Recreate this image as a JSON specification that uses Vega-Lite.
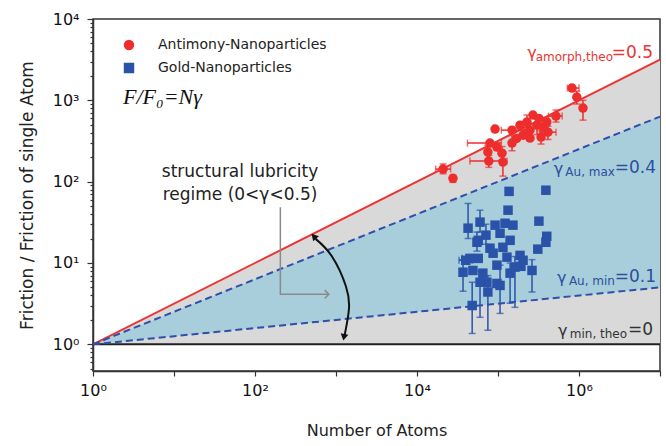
{
  "$schema": "https://vega.github.io/schema/vega-lite/v6.json",
  "width": 567,
  "height": 352,
  "autosize": "none",
  "padding": {"left": 93, "top": 19, "right": 6, "bottom": 75},
  "background": "white",
  "config": {
    "font": "DejaVu Sans",
    "view": {"stroke": "#333", "strokeWidth": 1.5},
    "axis": {"grid": false, "domainColor": "#333", "domainWidth": 1.5, "tickColor": "#333", "tickWidth": 1.2, "labelFont": "DejaVu Sans", "labelFontSize": 16, "labelColor": "#111", "titleFont": "DejaVu Sans", "titleFontWeight": "normal", "titleColor": "#222", "labelOverlap": false, "labelFlush": false},
    "legend": {"orient": "none", "legendX": 29, "legendY": 19, "labelFontSize": 14, "labelFont": "DejaVu Sans", "labelColor": "#222", "labelLimit": 400, "symbolSize": 80, "symbolOpacity": 1, "labelOffset": 22, "rowPadding": 7}
  },
  "datasets": {
    "pts": [
      {"group": "Antimony-Nanoparticles", "N": 820000, "F": 1416, "Nlo": 720000, "Nhi": 1000000},
      {"group": "Antimony-Nanoparticles", "N": 940000, "F": 1096, "Flo": 900, "Fhi": 1300},
      {"group": "Antimony-Nanoparticles", "N": 1120000, "F": 804, "Flo": 571, "Fhi": 1000},
      {"group": "Antimony-Nanoparticles", "N": 520000, "F": 640, "Flo": 540, "Fhi": 760, "Nlo": 420000, "Nhi": 620000},
      {"group": "Antimony-Nanoparticles", "N": 270000, "F": 658},
      {"group": "Antimony-Nanoparticles", "N": 228000, "F": 540, "Flo": 440, "Fhi": 660},
      {"group": "Antimony-Nanoparticles", "N": 303000, "F": 495, "Flo": 380, "Fhi": 600},
      {"group": "Antimony-Nanoparticles", "N": 248000, "F": 430, "Flo": 330, "Fhi": 520},
      {"group": "Antimony-Nanoparticles", "N": 360000, "F": 469},
      {"group": "Antimony-Nanoparticles", "N": 414000, "F": 406, "Flo": 330, "Fhi": 480, "Nlo": 330000, "Nhi": 520000},
      {"group": "Antimony-Nanoparticles", "N": 204000, "F": 373},
      {"group": "Antimony-Nanoparticles", "N": 340000, "F": 353, "Flo": 290, "Fhi": 420},
      {"group": "Antimony-Nanoparticles", "N": 248000, "F": 343},
      {"group": "Antimony-Nanoparticles", "N": 149000, "F": 430, "Nlo": 110000, "Nhi": 200000},
      {"group": "Antimony-Nanoparticles", "N": 92000, "F": 443},
      {"group": "Antimony-Nanoparticles", "N": 149000, "F": 298, "Flo": 240, "Fhi": 370},
      {"group": "Antimony-Nanoparticles", "N": 79600, "F": 298, "Nlo": 42000, "Nhi": 110000},
      {"group": "Antimony-Nanoparticles", "N": 97000, "F": 266},
      {"group": "Antimony-Nanoparticles", "N": 75000, "F": 231, "Flo": 190, "Fhi": 280},
      {"group": "Antimony-Nanoparticles", "N": 115000, "F": 174, "Flo": 117, "Fhi": 230},
      {"group": "Antimony-Nanoparticles", "N": 77000, "F": 179, "Flo": 150, "Fhi": 210, "Nlo": 45000, "Nhi": 129000},
      {"group": "Antimony-Nanoparticles", "N": 21000, "F": 143, "Flo": 125, "Fhi": 165, "Nlo": 17000, "Nhi": 26000},
      {"group": "Antimony-Nanoparticles", "N": 27800, "F": 110, "Flo": 98, "Fhi": 120},
      {"group": "Antimony-Nanoparticles", "N": 187000, "F": 495},
      {"group": "Antimony-Nanoparticles", "N": 400000, "F": 540},
      {"group": "Antimony-Nanoparticles", "N": 112000, "F": 224, "Flo": 185, "Fhi": 270},
      {"group": "Antimony-Nanoparticles", "N": 320000, "F": 600},
      {"group": "Antimony-Nanoparticles", "N": 220000, "F": 390},
      {"group": "Antimony-Nanoparticles", "N": 170000, "F": 340},
      {"group": "Gold-Nanoparticles", "N": 390000, "F": 78.5},
      {"group": "Gold-Nanoparticles", "N": 137000, "F": 76},
      {"group": "Gold-Nanoparticles", "N": 133000, "F": 44.6},
      {"group": "Gold-Nanoparticles", "N": 320000, "F": 32.7},
      {"group": "Gold-Nanoparticles", "N": 400000, "F": 21.3},
      {"group": "Gold-Nanoparticles", "N": 390000, "F": 18},
      {"group": "Gold-Nanoparticles", "N": 310000, "F": 14.8},
      {"group": "Gold-Nanoparticles", "N": 60000, "F": 31.8, "Flo": 24, "Fhi": 44.6},
      {"group": "Gold-Nanoparticles", "N": 92000, "F": 29.2},
      {"group": "Gold-Nanoparticles", "N": 122000, "F": 30.8},
      {"group": "Gold-Nanoparticles", "N": 153000, "F": 29.2},
      {"group": "Gold-Nanoparticles", "N": 106000, "F": 23.2},
      {"group": "Gold-Nanoparticles", "N": 42700, "F": 26.8, "Flo": 20, "Fhi": 54},
      {"group": "Gold-Nanoparticles", "N": 55000, "F": 18, "Flo": 14, "Fhi": 24},
      {"group": "Gold-Nanoparticles", "N": 115000, "F": 15.6},
      {"group": "Gold-Nanoparticles", "N": 187000, "F": 12.4},
      {"group": "Gold-Nanoparticles", "N": 79600, "F": 15.2},
      {"group": "Gold-Nanoparticles", "N": 45000, "F": 11.4, "Nlo": 36000, "Nhi": 56000},
      {"group": "Gold-Nanoparticles", "N": 37000, "F": 7.7, "Flo": 4.5, "Fhi": 11},
      {"group": "Gold-Nanoparticles", "N": 49000, "F": 8.1},
      {"group": "Gold-Nanoparticles", "N": 65000, "F": 7.5},
      {"group": "Gold-Nanoparticles", "N": 73000, "F": 5.8},
      {"group": "Gold-Nanoparticles", "N": 129000, "F": 11.8},
      {"group": "Gold-Nanoparticles", "N": 162000, "F": 8.9, "Flo": 2.85, "Fhi": 12},
      {"group": "Gold-Nanoparticles", "N": 204000, "F": 10.8},
      {"group": "Gold-Nanoparticles", "N": 263000, "F": 8.1, "Flo": 4.4, "Fhi": 11},
      {"group": "Gold-Nanoparticles", "N": 106000, "F": 5.3, "Flo": 2.4, "Fhi": 9.4},
      {"group": "Gold-Nanoparticles", "N": 75000, "F": 4.4, "Flo": 1.49, "Fhi": 7},
      {"group": "Gold-Nanoparticles", "N": 48000, "F": 3.0, "Flo": 1.36, "Fhi": 5.8},
      {"group": "Gold-Nanoparticles", "N": 60000, "F": 5.8, "Flo": 2.15, "Fhi": 8},
      {"group": "Gold-Nanoparticles", "N": 87000, "F": 13.2},
      {"group": "Gold-Nanoparticles", "N": 141000, "F": 7.5, "Flo": 3.2, "Fhi": 10},
      {"group": "Gold-Nanoparticles", "N": 57000, "F": 19},
      {"group": "Gold-Nanoparticles", "N": 192000, "F": 9.1},
      {"group": "Gold-Nanoparticles", "N": 97000, "F": 5.6},
      {"group": "Gold-Nanoparticles", "N": 40000, "F": 10.8, "Nlo": 33000, "Nhi": 48000},
      {"group": "Gold-Nanoparticles", "N": 71000, "F": 22, "Flo": 17, "Fhi": 30},
      {"group": "Gold-Nanoparticles", "N": 141000, "F": 19},
      {"group": "Gold-Nanoparticles", "N": 57000, "F": 11.4},
      {"group": "Gold-Nanoparticles", "N": 97000, "F": 9.4}
    ],
    "glabels": [
      {"line": "amorph", "part": "g", "t": "γ", "N": 300000, "F": 3819},
      {"line": "amorph", "part": "sub", "t": "amorph,theo", "N": 2630000, "F": 3404},
      {"line": "amorph", "part": "eq", "t": "=0.5", "N": 8200000, "F": 3819},
      {"line": "aumax", "part": "g", "t": "γ", "N": 640000, "F": 142.6},
      {"line": "aumax", "part": "sub", "t": "Au, max", "N": 2780000, "F": 130.9},
      {"line": "aumax", "part": "eq", "t": "=0.4", "N": 8930000, "F": 146.6},
      {"line": "aumin", "part": "g", "t": "γ", "N": 700000, "F": 6.49},
      {"line": "aumin", "part": "sub", "t": "Au, min", "N": 2780000, "F": 5.96},
      {"line": "aumin", "part": "eq", "t": "=0.1", "N": 8930000, "F": 6.68},
      {"line": "min", "part": "g", "t": "γ", "N": 720000, "F": 1.445},
      {"line": "min", "part": "sub", "t": "min, theo", "N": 3920000, "F": 1.327},
      {"line": "min", "part": "eq", "t": "=0", "N": 8200000, "F": 1.486}
    ]
  },
  "layer": [
    {
      "data": {"values": [{"N": 1, "F": 1, "F2": 1}, {"N": 10000000, "F": 1, "F2": 3162.28}]},
      "mark": {"type": "area", "color": "#d9d9d9", "opacity": 1},
      "encoding": {
        "x": {"field": "N", "type": "quantitative", "title": "Number of Atoms", "scale": {"type": "log", "domain": [1, 10000000], "nice": false},
          "axis": {"title": "Number of Atoms", "titleFontSize": 16, "titlePadding": 24, "values": [1, 10, 100, 1000, 10000, 100000, 1000000, 10000000], "tickSize": 5, "labelPadding": 6,
            "labelExpr": "(round(log(datum.value)/LN10) % 2 == 0 && datum.value < 5000000) ? '10' + ['⁰','¹','²','³','⁴','⁵','⁶','⁷'][round(log(datum.value)/LN10)] : ''"}},
        "y": {"field": "F", "type": "quantitative", "title": "Friction / Friction of single Atom", "scale": {"type": "log", "domain": [0.47, 10000], "nice": false},
          "axis": {"title": "Friction / Friction of single Atom", "titleFontSize": 17, "titlePadding": 16, "labelPadding": 8,
            "values": [0.5, 0.6, 0.7, 0.8, 0.9, 1, 2, 3, 4, 5, 6, 7, 8, 9, 10, 20, 30, 40, 50, 60, 70, 80, 90, 100, 200, 300, 400, 500, 600, 700, 800, 900, 1000, 2000, 3000, 4000, 5000, 6000, 7000, 8000, 9000, 10000],
            "tickSize": {"condition": {"test": "abs(log(datum.value)/LN10 - round(log(datum.value)/LN10)) < 0.01", "value": 6}, "value": 3},
            "labelExpr": "abs(log(datum.value)/LN10 - round(log(datum.value)/LN10)) < 0.01 ? '10' + ['⁰','¹','²','³','⁴'][round(log(datum.value)/LN10)] : ''"}},
        "y2": {"field": "F2"}
      }
    },
    {
      "data": {"values": [{"N": 1, "F": 1, "F2": 1}, {"N": 10000000, "F": 5.012, "F2": 630.96}]},
      "mark": {"type": "area", "color": "#a8cedc", "opacity": 1},
      "encoding": {"x": {"field": "N", "type": "quantitative", "title": "Number of Atoms"}, "y": {"field": "F", "type": "quantitative", "title": "Friction / Friction of single Atom"}, "y2": {"field": "F2"}}
    },
    {
      "data": {"values": [{"N": 1, "F": 1}, {"N": 10000000, "F": 1}]},
      "mark": {"type": "line", "color": "#222", "strokeWidth": 2},
      "encoding": {"x": {"field": "N", "type": "quantitative", "title": "Number of Atoms"}, "y": {"field": "F", "type": "quantitative", "title": "Friction / Friction of single Atom"}}
    },
    {
      "data": {"values": [{"N": 1, "F": 1}, {"N": 10000000, "F": 3162.28}]},
      "mark": {"type": "line", "color": "#ee3333", "strokeWidth": 2},
      "encoding": {"x": {"field": "N", "type": "quantitative", "title": "Number of Atoms"}, "y": {"field": "F", "type": "quantitative", "title": "Friction / Friction of single Atom"}}
    },
    {
      "data": {"values": [{"gamma": 0.4, "N": 1, "F": 1}, {"gamma": 0.4, "N": 10000000, "F": 630.96}, {"gamma": 0.1, "N": 1, "F": 1}, {"gamma": 0.1, "N": 10000000, "F": 5.012}]},
      "mark": {"type": "line", "color": "#2f4fa8", "strokeWidth": 2, "strokeDash": [7, 4]},
      "encoding": {"x": {"field": "N", "type": "quantitative", "title": "Number of Atoms"}, "y": {"field": "F", "type": "quantitative", "title": "Friction / Friction of single Atom"}, "detail": {"field": "gamma"}}
    },
    {
      "data": {"values": [{"o": 1, "N": 205.6, "F": 48.6}, {"o": 2, "N": 205.6, "F": 4.12}, {"o": 3, "N": 800, "F": 4.12}]},
      "mark": {"type": "line", "color": "#8a8a8a", "strokeWidth": 1.5},
      "encoding": {"x": {"field": "N", "type": "quantitative", "title": "Number of Atoms"}, "y": {"field": "F", "type": "quantitative", "title": "Friction / Friction of single Atom"}, "order": {"field": "o"}}
    },
    {
      "data": {"values": [{"N": 816, "F": 4.12}]},
      "mark": {"type": "point", "shape": "M-1,-1L0,0L-1,1", "filled": false, "stroke": "#8a8a8a", "strokeWidth": 1.5, "size": 70, "opacity": 1},
      "encoding": {"x": {"field": "N", "type": "quantitative", "title": "Number of Atoms"}, "y": {"field": "F", "type": "quantitative", "title": "Friction / Friction of single Atom"}}
    },
    {
      "data": {"values": [{"o": 1, "N": 560, "F": 19.8}, {"o": 2, "N": 889, "F": 12.1}, {"o": 3, "N": 1325, "F": 5.18}, {"o": 4, "N": 1444, "F": 2.7}, {"o": 5, "N": 1280, "F": 1.3}]},
      "mark": {"type": "line", "color": "#111", "strokeWidth": 2, "interpolate": "natural"},
      "encoding": {"x": {"field": "N", "type": "quantitative", "title": "Number of Atoms"}, "y": {"field": "F", "type": "quantitative", "title": "Friction / Friction of single Atom"}, "order": {"field": "o"}}
    },
    {
      "data": {"values": [{"N": 532, "F": 21.3}]},
      "mark": {"type": "point", "shape": "triangle-up", "angle": 318, "filled": true, "color": "#111", "size": 60, "opacity": 1},
      "encoding": {"x": {"field": "N", "type": "quantitative", "title": "Number of Atoms"}, "y": {"field": "F", "type": "quantitative", "title": "Friction / Friction of single Atom"}}
    },
    {
      "data": {"values": [{"N": 1253, "F": 1.22}]},
      "mark": {"type": "point", "shape": "triangle-up", "angle": 190, "filled": true, "color": "#111", "size": 60, "opacity": 1},
      "encoding": {"x": {"field": "N", "type": "quantitative", "title": "Number of Atoms"}, "y": {"field": "F", "type": "quantitative", "title": "Friction / Friction of single Atom"}}
    },
    {
      "data": {"values": [{"t": "structural lubricity", "N": 65.3, "F": 131}, {"t": "regime (0<γ<0.5)", "N": 65.3, "F": 68.3}]},
      "mark": {"type": "text", "fontSize": 17, "align": "center", "baseline": "middle", "color": "#222", "font": "DejaVu Sans"},
      "encoding": {"x": {"field": "N", "type": "quantitative", "title": "Number of Atoms"}, "y": {"field": "F", "type": "quantitative", "title": "Friction / Friction of single Atom"}, "text": {"field": "t"}}
    },
    {
      "data": {"values": [{"t": "F/F₀=Nγ", "N": 2.35, "F": 1096}]},
      "mark": {"type": "text", "fontSize": 22, "font": "Liberation Serif", "fontStyle": "italic", "align": "left", "baseline": "middle", "color": "#111"},
      "encoding": {"x": {"field": "N", "type": "quantitative", "title": "Number of Atoms"}, "y": {"field": "F", "type": "quantitative", "title": "Friction / Friction of single Atom"}, "text": {"field": "t"}}
    },
    {
      "data": {"name": "glabels"},
      "mark": {"type": "text", "align": "right", "baseline": "middle", "font": "DejaVu Sans"},
      "encoding": {
        "x": {"field": "N", "type": "quantitative", "title": "Number of Atoms"},
        "y": {"field": "F", "type": "quantitative", "title": "Friction / Friction of single Atom"},
        "text": {"field": "t"},
        "size": {"condition": [{"test": "datum.part == 'sub'", "value": 12}, {"test": "datum.part == 'g'", "value": 16}], "value": 17},
        "color": {"condition": [{"test": "datum.line == 'amorph'", "value": "#ea3535"}, {"test": "datum.line == 'min'", "value": "#333333"}], "value": "#2c4f9e"}
      }
    },
    {
      "data": {"name": "pts"},
      "transform": [{"filter": "isValid(datum.Flo)"}],
      "mark": {"type": "errorbar", "ticks": {"size": 7}, "thickness": 1.5},
      "encoding": {
        "x": {"field": "N", "type": "quantitative", "title": "Number of Atoms"},
        "y": {"field": "Flo", "type": "quantitative", "title": "Friction / Friction of single Atom"},
        "y2": {"field": "Fhi"},
        "color": {"field": "group", "type": "nominal"}
      }
    },
    {
      "data": {"name": "pts"},
      "transform": [{"filter": "isValid(datum.Nlo)"}],
      "mark": {"type": "errorbar", "ticks": {"size": 7}, "thickness": 1.5},
      "encoding": {
        "y": {"field": "F", "type": "quantitative", "title": "Friction / Friction of single Atom"},
        "x": {"field": "Nlo", "type": "quantitative", "title": "Number of Atoms"},
        "x2": {"field": "Nhi"},
        "color": {"field": "group", "type": "nominal"}
      }
    },
    {
      "data": {"name": "pts"},
      "mark": {"type": "point", "filled": true, "opacity": 1, "size": 90},
      "encoding": {
        "x": {"field": "N", "type": "quantitative", "title": "Number of Atoms"},
        "y": {"field": "F", "type": "quantitative", "title": "Friction / Friction of single Atom"},
        "color": {"field": "group", "type": "nominal", "scale": {"domain": ["Antimony-Nanoparticles", "Gold-Nanoparticles"], "range": ["#ee2d2d", "#2a52a8"]}, "legend": {"title": null}},
        "shape": {"field": "group", "type": "nominal", "scale": {"domain": ["Antimony-Nanoparticles", "Gold-Nanoparticles"], "range": ["circle", "square"]}, "legend": {"title": null}}
      }
    }
  ]
}
